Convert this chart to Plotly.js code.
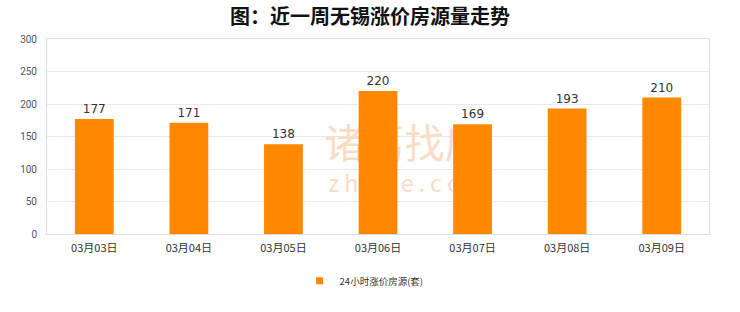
<!DOCTYPE html>
<html>
<head>
<meta charset="utf-8">
<script src="https://cdn.plot.ly/plotly-3.0.1.min.js"></script>
<style>
  html, body { margin: 0; padding: 0; background: #fff; }
  #chart { width: 740px; height: 312px; }
</style>
</head>
<body>
<div id="chart"></div>
<script>
// Daily count of listings with a price increase over the last week (Wuxi)
const dates = ['03月03日', '03月04日', '03月05日', '03月06日', '03月07日', '03月08日', '03月09日'];
const raisedCounts = [177, 171, 138, 220, 169, 193, 210];
const seriesName = '24小时涨价房源(套)';
const yTicks = [0, 50, 100, 150, 200, 250, 300];

// Faint brand watermark, placed on a hidden base subplot so the bars sit above it
const watermarkLines = ['诸葛找房', 'z h u g e . c o m'];

const barColor = '#ff8800';
const cjk = '"Noto Sans CJK SC", "Noto Sans", sans-serif';

const watermark = {
  type: 'scatter',
  mode: 'text',
  xaxis: 'x', yaxis: 'y',
  x: [0.54, 0.545],
  y: [0.44, 0.245],
  text: watermarkLines,
  textfont: { family: cjk, size: [40, 23], color: '#f9dcc6' },
  hoverinfo: 'skip',
  showlegend: false
};

const bars = {
  type: 'bar',
  xaxis: 'x2', yaxis: 'y2',
  name: seriesName,
  x: dates,
  y: raisedCounts,
  width: 0.41,
  marker: { color: barColor },
  text: raisedCounts.map(String),
  textposition: 'outside',
  cliponaxis: false,
  textfont: { family: 'DejaVu Sans, sans-serif', size: 12, color: '#333' },
  hoverinfo: 'x+y',
  showlegend: false
};

// Legend entry with a small square swatch in the bar colour
const legendKey = {
  type: 'scatter',
  mode: 'markers',
  xaxis: 'x2', yaxis: 'y2',
  name: seriesName,
  x: [null],
  y: [null],
  marker: { symbol: 'square', size: 7, color: barColor },
  hoverinfo: 'skip',
  showlegend: true
};

const layout = {
  width: 740,
  height: 312,
  margin: { l: 47, r: 31, t: 39, b: 78 },
  paper_bgcolor: '#fff',
  plot_bgcolor: '#fff',
  title: {
    text: '图：近一周无锡涨价房源量走势',
    x: 0.5, xanchor: 'center',
    y: 0.945, yanchor: 'middle', yref: 'container',
    font: { family: cjk, size: 20, color: '#111', weight: 'bold' }
  },
  xaxis: { range: [0, 1], visible: false, fixedrange: true },
  yaxis: { range: [0, 1], visible: false, fixedrange: true },
  xaxis2: {
    overlaying: 'x',
    type: 'category',
    categoryarray: dates,
    range: [-0.5, dates.length - 0.5],
    showline: true, mirror: true, linecolor: '#dcdcdc', linewidth: 1,
    showgrid: false, zeroline: false,
    ticks: '',
    ticklabelstandoff: 4,
    tickfont: { family: cjk, size: 11, color: '#333' }
  },
  yaxis2: {
    overlaying: 'y',
    side: 'left',
    range: [0, 300],
    tickvals: yTicks,
    showline: true, mirror: true, linecolor: '#dcdcdc', linewidth: 1,
    showgrid: true, gridcolor: '#e8e8e8', gridwidth: 1,
    zeroline: false,
    ticks: '',
    ticklabelstandoff: 7,
    tickfont: { family: 'Roboto, sans-serif', size: 10, color: '#555' }
  },
  legend: {
    orientation: 'h',
    x: 0.479, xanchor: 'center',
    y: -0.24, yanchor: 'middle',
    font: { family: cjk, size: 9.5, color: '#333' },
    itemwidth: 30
  },
  showlegend: true
};

Plotly.newPlot('chart', [watermark, bars, legendKey], layout, { displayModeBar: false, staticPlot: true });
</script>
</body>
</html>
